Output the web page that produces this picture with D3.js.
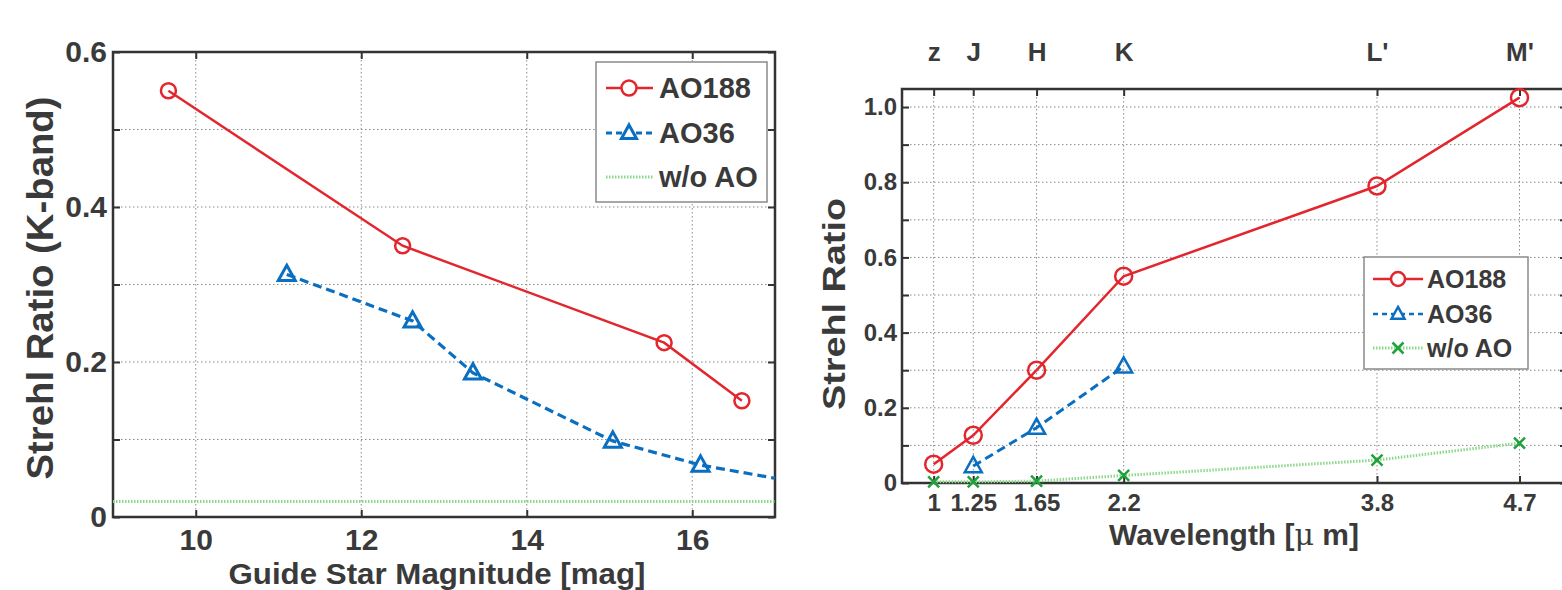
<!DOCTYPE html>
<html lang="en">
<head>
    <meta charset="UTF-8">
    <title>Strehl Ratio vs Guide Star Magnitude and Wavelength</title>
    <script src="https://d3js.org/d3.v7.min.js"></script>
    <style>
        body { margin: 0; background: #fff; }
        text { font-family: "Liberation Sans", Arial, sans-serif; font-weight: bold; fill: #3a3a3a; }
        .grid line { stroke: #8a8a8a; stroke-width: 1; stroke-dasharray: 1.5,2.5; }
        .axis line { stroke: #333; stroke-width: 2; }
        .axis path { display: none; }
        .frame { fill: none; stroke: #333; stroke-width: 2.5; }
    </style>
</head>
<body>
    <script>
        // left panel: K-band Strehl vs guide star magnitude
        const magAO188 = [9.67, 12.5, 15.66, 16.6]
        const srAO188 = [0.55, 0.35, 0.225, 0.15]
        const magAO36 = [11.1, 12.62, 13.35, 15.04, 16.1, 17.0]
        const srAO36 = [0.313, 0.253, 0.186, 0.098, 0.067, 0.05]
        const ao36Measured = 5   // last point is only the line continuation
        const magNoAO = [9, 17]
        const srNoAO = [0.02, 0.02]
        const magTicks = [10, 12, 14, 16]
        const srTicksLeft = [0, 0.1, 0.2, 0.3, 0.4, 0.5, 0.6]

        // right panel: Strehl vs wavelength
        const wavelength = [1, 1.25, 1.65, 2.2, 3.8, 4.7]
        const bandNames = ["z", "J", "H", "K", "L'", "M'"]
        const wlAO188 = [0.05, 0.127, 0.30, 0.55, 0.79, 1.025]
        const wlBandAO36 = [1.25, 1.65, 2.2]
        const wlAO36 = [0.045, 0.147, 0.31]
        const wlNoAO = [0.003, 0.003, 0.005, 0.02, 0.061, 0.106]
        const srTicksRight = [0, 0.1, 0.2, 0.3, 0.4, 0.5, 0.6, 0.7, 0.8, 0.9, 1.0]

        const legendNames = ["AO188", "AO36", "w/o AO"]

        const red = "#e3262d", blue = "#0a6fc0", green = "#8ad88a", greenMark = "#1fa23c"

        const svg = d3.select("body").append("svg")
            .attr("width", 1562)
            .attr("height", 590)

        const fmtTick = d => {
            const k = Math.round(d * 10)
            if (k % 2) return ""
            return k === 0 ? "0" : d3.format(".1f")(d)
        }

        function trianglePath(cx, cy, s) {
            const h = s * 0.9
            return `M${cx},${cy - h * 0.6}L${cx + s / 2},${cy + h * 0.4}L${cx - s / 2},${cy + h * 0.4}Z`
        }
        function crossPath(cx, cy, s) {
            return `M${cx - s},${cy - s}L${cx + s},${cy + s}M${cx - s},${cy + s}L${cx + s},${cy - s}`
        }

        // ---------------- left panel ----------------
        const xL = d3.scaleLinear().domain([9, 17]).range([113, 775])
        const yL = d3.scaleLinear().domain([0, 0.6]).range([517, 52])
        const gL = svg.append("g")

        gL.append("g").attr("class", "grid")
            .selectAll("line").data(srTicksLeft.slice(1, -1)).enter().append("line")
            .attr("x1", 113).attr("x2", 775)
            .attr("y1", d => yL(d)).attr("y2", d => yL(d))
        gL.append("g").attr("class", "grid")
            .selectAll("line").data(magTicks).enter().append("line")
            .attr("y1", 52).attr("y2", 517)
            .attr("x1", d => xL(d)).attr("x2", d => xL(d))

        gL.append("g").attr("class", "axis")
            .attr("transform", "translate(0,517)")
            .call(d3.axisBottom(xL).tickValues(magTicks).tickSizeInner(-7).tickSizeOuter(0).tickPadding(12))
            .selectAll("text").style("font-size", "30px")
        gL.append("g").attr("class", "axis")
            .attr("transform", "translate(0,52)")
            .call(d3.axisTop(xL).tickValues(magTicks).tickSizeInner(-7).tickSizeOuter(0).tickFormat(""))
        gL.append("g").attr("class", "axis")
            .attr("transform", "translate(113,0)")
            .call(d3.axisLeft(yL).tickValues(srTicksLeft).tickSizeInner(-7).tickSizeOuter(0).tickPadding(6).tickFormat(fmtTick))
            .selectAll("text").style("font-size", "30px")
        gL.append("g").attr("class", "axis")
            .attr("transform", "translate(775,0)")
            .call(d3.axisRight(yL).tickValues(srTicksLeft).tickSizeInner(-7).tickSizeOuter(0).tickFormat(""))
        gL.selectAll(".axis text").attr("fill", "#3a3a3a")

        gL.append("rect").attr("class", "frame")
            .attr("x", 113).attr("y", 52).attr("width", 662).attr("height", 465)

        const lineL = d3.line().x(d => xL(d[0])).y(d => yL(d[1]))

        gL.append("path").datum(d3.zip(magNoAO, srNoAO))
            .attr("d", lineL).attr("fill", "none")
            .attr("stroke", green).attr("stroke-width", 3).attr("stroke-dasharray", "1.5,1.5")
        gL.append("path").datum(d3.zip(magAO36, srAO36))
            .attr("d", lineL).attr("fill", "none")
            .attr("stroke", blue).attr("stroke-width", 3.2).attr("stroke-dasharray", "9,5")
        gL.append("path").datum(d3.zip(magAO188, srAO188))
            .attr("d", lineL).attr("fill", "none")
            .attr("stroke", red).attr("stroke-width", 2.5)

        gL.selectAll(".m188").data(d3.zip(magAO188, srAO188)).enter().append("circle")
            .attr("cx", d => xL(d[0])).attr("cy", d => yL(d[1])).attr("r", 7.5)
            .attr("fill", "none").attr("stroke", red).attr("stroke-width", 2.5)
        gL.selectAll(".m36").data(d3.zip(magAO36, srAO36).slice(0, ao36Measured)).enter().append("path")
            .attr("d", d => trianglePath(xL(d[0]), yL(d[1]), 17))
            .attr("fill", "none").attr("stroke", blue).attr("stroke-width", 3)

        gL.append("text")
            .attr("transform", "translate(53,288) rotate(-90)")
            .attr("text-anchor", "middle")
            .attr("textLength", 383).attr("lengthAdjust", "spacingAndGlyphs")
            .style("font-size", "37px")
            .text("Strehl Ratio (K-band)")
        gL.append("text")
            .attr("x", 437).attr("y", 584)
            .attr("text-anchor", "middle")
            .attr("textLength", 417).attr("lengthAdjust", "spacingAndGlyphs")
            .style("font-size", "29px")
            .text("Guide Star Magnitude [mag]")

        // legend left
        const legL = gL.append("g")
        legL.append("rect").attr("x", 596).attr("y", 62).attr("width", 171).attr("height", 140)
            .attr("fill", "#fff").attr("stroke", "#8a8a8a").attr("stroke-width", 1.5)
        const legLY = [88, 133, 177]
        legL.append("line").attr("x1", 606).attr("x2", 653).attr("y1", legLY[0]).attr("y2", legLY[0])
            .attr("stroke", red).attr("stroke-width", 2.5)
        legL.append("circle").attr("cx", 629).attr("cy", legLY[0]).attr("r", 7.5)
            .attr("fill", "#fff").attr("stroke", red).attr("stroke-width", 2.5)
        legL.append("line").attr("x1", 606).attr("x2", 653).attr("y1", legLY[1]).attr("y2", legLY[1])
            .attr("stroke", blue).attr("stroke-width", 3).attr("stroke-dasharray", "6,4")
        legL.append("path").attr("d", trianglePath(629, legLY[1], 15))
            .attr("fill", "#fff").attr("stroke", blue).attr("stroke-width", 3)
        legL.append("line").attr("x1", 606).attr("x2", 653).attr("y1", legLY[2]).attr("y2", legLY[2])
            .attr("stroke", green).attr("stroke-width", 3).attr("stroke-dasharray", "1.5,1.5")
        legL.selectAll(".lt").data(legendNames).enter().append("text")
            .attr("x", 659).attr("y", (d, i) => legLY[i]).attr("dy", "0.36em")
            .style("font-size", "29px")
            .text(d => d)

        // ---------------- right panel ----------------
        const xR = d3.scaleLinear().domain([0.8, 5]).range([902, 1567])
        const yR = d3.scaleLinear().domain([0, 1.048]).range([483, 89])
        const gR = svg.append("g")

        gR.append("g").attr("class", "grid")
            .selectAll("line").data(srTicksRight.slice(1)).enter().append("line")
            .attr("x1", 902).attr("x2", 1567)
            .attr("y1", d => yR(d)).attr("y2", d => yR(d))
        gR.append("g").attr("class", "grid")
            .selectAll("line").data(wavelength).enter().append("line")
            .attr("y1", 89).attr("y2", 483)
            .attr("x1", d => xR(d)).attr("x2", d => xR(d))

        gR.append("g").attr("class", "axis")
            .attr("transform", "translate(0,483)")
            .call(d3.axisBottom(xR).tickValues(wavelength).tickSizeInner(-7).tickSizeOuter(0).tickPadding(11).tickFormat(d3.format("")))
            .selectAll("text").style("font-size", "24px")
        gR.append("g").attr("class", "axis")
            .attr("transform", "translate(0,89)")
            .call(d3.axisTop(xR).tickValues(wavelength).tickSizeInner(-7).tickSizeOuter(0).tickPadding(28)
                .tickFormat((d, i) => bandNames[i]))
            .selectAll("text").style("font-size", "26px")
        gR.append("g").attr("class", "axis")
            .attr("transform", "translate(902,0)")
            .call(d3.axisLeft(yR).tickValues(srTicksRight).tickSizeInner(-7).tickSizeOuter(0).tickPadding(5).tickFormat(fmtTick))
            .selectAll("text").style("font-size", "24px")
        gR.append("g").attr("class", "axis")
            .attr("transform", "translate(1567,0)")
            .call(d3.axisRight(yR).tickValues(srTicksRight).tickSizeInner(-7).tickSizeOuter(0).tickFormat(""))
        gR.selectAll(".axis text").attr("fill", "#3a3a3a")

        gR.append("rect").attr("class", "frame")
            .attr("x", 902).attr("y", 89).attr("width", 665).attr("height", 394)

        const lineR = d3.line().x(d => xR(d[0])).y(d => yR(d[1]))

        gR.append("path").datum(d3.zip(wavelength, wlNoAO))
            .attr("d", lineR).attr("fill", "none")
            .attr("stroke", green).attr("stroke-width", 3).attr("stroke-dasharray", "1.5,1.5")
        gR.append("path").datum(d3.zip(wlBandAO36, wlAO36))
            .attr("d", lineR).attr("fill", "none")
            .attr("stroke", blue).attr("stroke-width", 3).attr("stroke-dasharray", "9,5")
        gR.append("path").datum(d3.zip(wavelength, wlAO188))
            .attr("d", lineR).attr("fill", "none")
            .attr("stroke", red).attr("stroke-width", 2.5)

        gR.selectAll(".x0").data(d3.zip(wavelength, wlNoAO)).enter().append("path")
            .attr("d", d => crossPath(xR(d[0]), yR(d[1]), 5.5))
            .attr("fill", "none").attr("stroke", greenMark).attr("stroke-width", 2.5)
        gR.selectAll(".m36").data(d3.zip(wlBandAO36, wlAO36)).enter().append("path")
            .attr("d", d => trianglePath(xR(d[0]), yR(d[1]), 17))
            .attr("fill", "none").attr("stroke", blue).attr("stroke-width", 2.5)
        gR.selectAll(".m188").data(d3.zip(wavelength, wlAO188)).enter().append("circle")
            .attr("cx", d => xR(d[0])).attr("cy", d => yR(d[1])).attr("r", 8.5)
            .attr("fill", "none").attr("stroke", red).attr("stroke-width", 2.5)

        gR.append("text")
            .attr("transform", "translate(845,304) rotate(-90)")
            .attr("text-anchor", "middle")
            .attr("textLength", 212).attr("lengthAdjust", "spacingAndGlyphs")
            .style("font-size", "31px")
            .text("Strehl Ratio")
        const wlLabel = gR.append("text")
            .attr("x", 1234).attr("y", 545)
            .attr("text-anchor", "middle")
            .style("font-size", "30px")
        wlLabel.append("tspan").text("Wavelength [")
        wlLabel.append("tspan").style("font-weight", "normal").style("font-family", "DejaVu Serif, serif").text("\u03bc")
        wlLabel.append("tspan").text(" m]")

        // legend right
        const legR = gR.append("g")
        legR.append("rect").attr("x", 1364).attr("y", 257).attr("width", 164).attr("height", 112)
            .attr("fill", "#fff").attr("stroke", "#8a8a8a").attr("stroke-width", 1.5)
        const legRY = [279, 314, 348]
        legR.append("line").attr("x1", 1373).attr("x2", 1423).attr("y1", legRY[0]).attr("y2", legRY[0])
            .attr("stroke", red).attr("stroke-width", 2.5)
        legR.append("circle").attr("cx", 1398).attr("cy", legRY[0]).attr("r", 7)
            .attr("fill", "#fff").attr("stroke", red).attr("stroke-width", 2.5)
        legR.append("line").attr("x1", 1373).attr("x2", 1423).attr("y1", legRY[1]).attr("y2", legRY[1])
            .attr("stroke", blue).attr("stroke-width", 2.5).attr("stroke-dasharray", "5,4")
        legR.append("path").attr("d", trianglePath(1398, legRY[1], 13))
            .attr("fill", "#fff").attr("stroke", blue).attr("stroke-width", 2.5)
        legR.append("line").attr("x1", 1373).attr("x2", 1423).attr("y1", legRY[2]).attr("y2", legRY[2])
            .attr("stroke", green).attr("stroke-width", 3).attr("stroke-dasharray", "1.5,1.5")
        legR.append("path").attr("d", crossPath(1398, legRY[2], 5.5))
            .attr("fill", "none").attr("stroke", greenMark).attr("stroke-width", 2.5)
        legR.selectAll(".lt").data(legendNames).enter().append("text")
            .attr("x", 1427).attr("y", (d, i) => legRY[i]).attr("dy", "0.36em")
            .style("font-size", "25px")
            .text(d => d)
    </script>
</body>
</html>
